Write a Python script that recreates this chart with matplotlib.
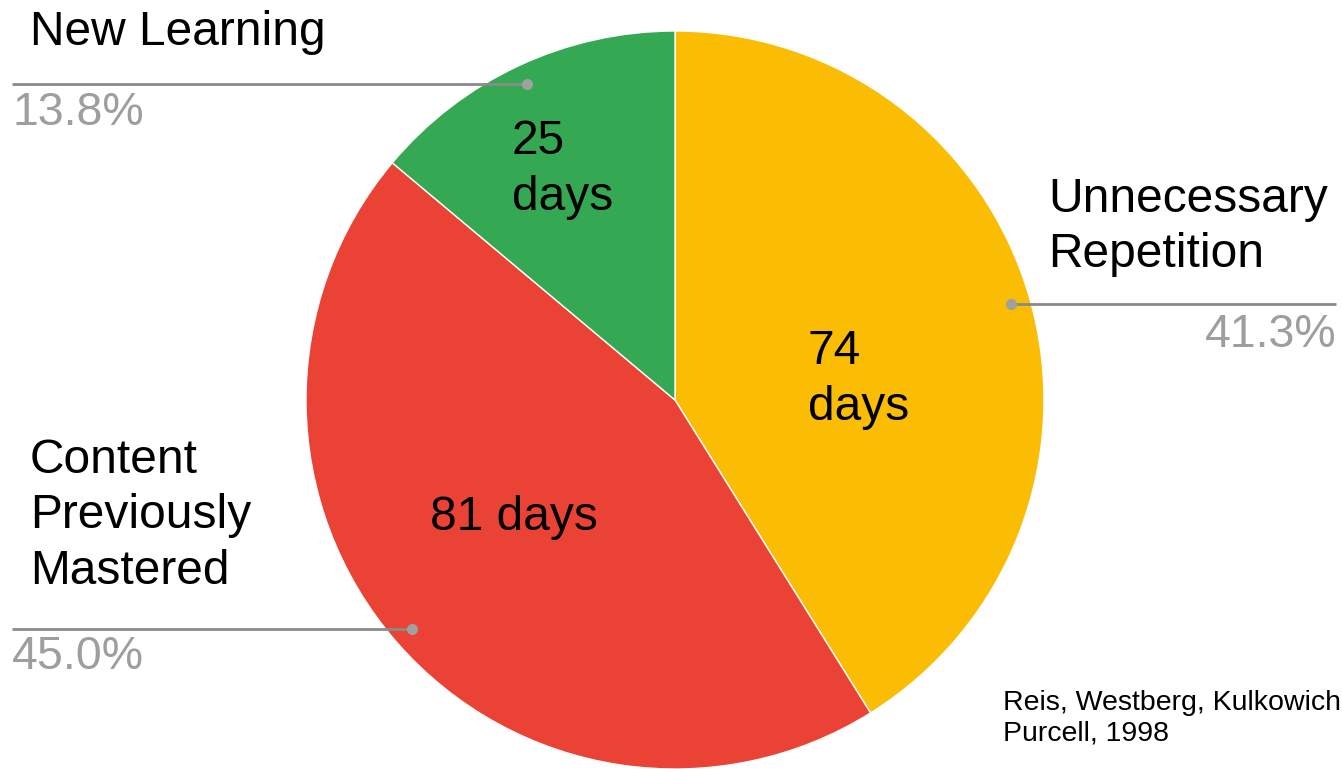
import numpy as np
import matplotlib
matplotlib.use("Agg")
import matplotlib.pyplot as plt

categories = ["Unnecessary\nRepetition", "Content\nPreviously\nMastered", "New Learning"]
days = [74, 81, 25]
pct_labels = ["41.3%", "45.0%", "13.8%"]
inner_labels = ["74\ndays", "81 days", "25\ndays"]
colors = ["#FBBC04", "#EA4335", "#34A853"]
citation = "Reis, Westberg, Kulkowich,\nPurcell, 1998"

W, H = 1342, 769
fig = plt.figure(figsize=(W / 100, H / 100), dpi=100)
ax = fig.add_axes([0, 0, 1, 1])

plt.rcParams["font.family"] = ["Liberation Sans", "DejaVu Sans"]

cx, cy, R = 675, H - 400, 369
wedges, _ = ax.pie(days, colors=colors, startangle=90, counterclock=False,
                   center=(cx, cy), radius=R, frame=True,
                   wedgeprops=dict(edgecolor="white", linewidth=1))
ax.set_xlim(0, W)
ax.set_ylim(0, H)
ax.set_aspect("equal")
ax.axis("off")

def Y(py):
    return H - py

FS = 34.5
PFS = 33.5
LS = 1.3
line_col = "#8a8a8a"
dot_col = "#a0a0a0"
pct_col = "#9e9e9e"

# leader lines: dot at 0.946 R along wedge mid angle
ends = {0: 1336, 1: 12, 2: 12}
for i, w in enumerate(wedges):
    mid = np.deg2rad((w.theta1 + w.theta2) / 2)
    dx = cx + 0.946 * R * np.cos(mid)
    dy = cy + 0.946 * R * np.sin(mid)
    ax.plot([dx, ends[i]], [dy, dy], color=line_col, lw=2, solid_capstyle="butt", zorder=3)
    ax.plot([dx], [dy], "o", color=dot_col, ms=7, zorder=4)

# outer labels
ax.text(30, Y(45), categories[2], fontsize=FS, color="black", va="baseline", ha="left")
ax.text(12, Y(125), pct_labels[2], fontsize=PFS, color=pct_col, va="baseline", ha="left")

ax.text(1048, Y(267), categories[0], fontsize=FS, color="black", va="baseline", ha="left",
        linespacing=LS)
ax.text(1336, Y(347), pct_labels[0], fontsize=PFS, color=pct_col, va="baseline", ha="right")

ax.text(30, Y(584), categories[1], fontsize=FS, color="black", va="baseline", ha="left",
        linespacing=LS)
ax.text(12, Y(669), pct_labels[1], fontsize=PFS, color=pct_col, va="baseline", ha="left")

# inner labels
ax.text(512, Y(210), inner_labels[2], fontsize=FS, color="black", va="baseline", ha="left",
        linespacing=LS)
ax.text(808, Y(420), inner_labels[0], fontsize=FS, color="black", va="baseline", ha="left",
        linespacing=LS)
ax.text(430, Y(530), inner_labels[1], fontsize=FS, color="black", va="baseline", ha="left")

# citation
ax.text(1003, Y(740), citation, fontsize=20.5, color="black", va="baseline", ha="left",
        linespacing=1.2)

fig.savefig("out.png", dpi=100)
